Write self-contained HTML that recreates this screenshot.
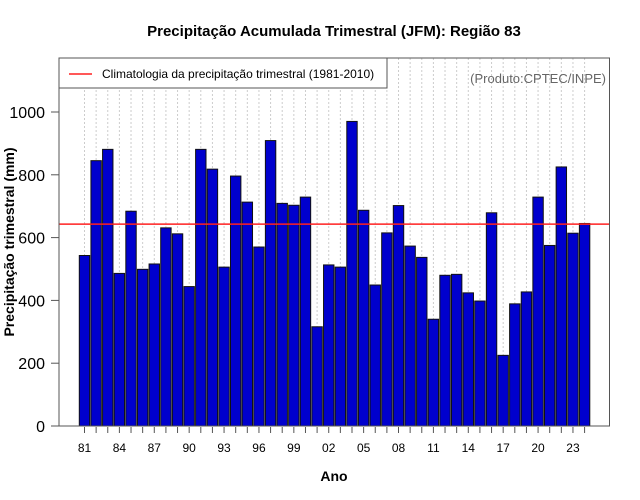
<!DOCTYPE html>
<html><head><meta charset="utf-8"><style>
body{margin:0;background:#fff;}
svg{display:block;font-family:"Liberation Sans",sans-serif;}
</style></head><body>
<svg id="chart" width="640" height="500">
<rect x="0" y="0" width="640" height="500" fill="#fff"/>
<text x="334" y="36" text-anchor="middle" font-size="15" font-weight="bold">Precipitação Acumulada Trimestral (JFM): Região 83</text>
<g id="grid"></g>
<g id="bars"></g>
<line id="clim" x1="59" x2="609.5" stroke="#ff2020" stroke-width="1.5"/>
<rect x="59" y="58" width="550.5" height="368" fill="none" stroke="#555" stroke-width="1"/>
<g id="yaxis"></g>
<g id="xaxis"></g>
<g>
<rect x="59" y="58" width="328" height="30" fill="#fff" stroke="#555" stroke-width="1"/>
<line x1="69" x2="92" y1="74" y2="74" stroke="#ff2020" stroke-width="1.5"/>
<text x="102" y="78" font-size="12">Climatologia da precipitação trimestral (1981-2010)</text>
</g>
<text x="606" y="83" text-anchor="end" font-size="13" fill="#666">(Produto:CPTEC/INPE)</text>
<text x="334" y="481" text-anchor="middle" font-size="14" font-weight="bold">Ano</text>
<text transform="translate(14,242) rotate(-90)" text-anchor="middle" font-size="14" font-weight="bold">Precipitação trimestral (mm)</text>
</svg>
<script>
const years = [];
for (let y = 1981; y <= 2024; y++) years.push(y);
const values = [543,845,881,486,684,499,516,631,612,444,881,818,506,796,713,570,909,709,703,729,316,513,506,970,687,449,615,702,573,537,340,480,483,424,398,679,225,389,427,729,575,825,614,645];
const climatology = 643;
const yTicks = [0,200,400,600,800,1000];
const xLabelYears = [1981,1984,1987,1990,1993,1996,1999,2002,2005,2008,2011,2014,2017,2020,2023];

const NS = "http://www.w3.org/2000/svg";
const y0 = 426, pxPer = 0.314;
function yScale(v){ return y0 - v * pxPer; }
function xLeft(i){ return 79.3 + i * 11.63; }
const bw = 10.4;
function mk(tag, attrs, parent){ const e=document.createElementNS(NS,tag); for(const k in attrs) e.setAttribute(k,attrs[k]); parent.appendChild(e); return e; }

const grid = document.getElementById('grid');
const bars = document.getElementById('bars');
const xaxis = document.getElementById('xaxis');
const yaxis = document.getElementById('yaxis');

years.forEach((yr, i) => {
  const cx = xLeft(i) + bw/2;
  const g = mk('line',{x1:cx,x2:cx,y1:58,y2:426,stroke:'#ccc','stroke-width':1,'stroke-dasharray':'2,2'},grid);
  
  
  const r = mk('rect',{x:xLeft(i),y:yScale(values[i]),width:bw,height:values[i]*pxPer,fill:'#0000cd',stroke:'#111','stroke-width':1},bars);
  
  
  const t = mk('line',{x1:cx,x2:cx,y1:427,y2:433,stroke:'#555','stroke-width':1},xaxis);
  
  
  if (xLabelYears.includes(yr)) {
    const l = mk('text',{x:cx,y:452,'text-anchor':'middle','font-size':12},xaxis);
    l.textContent = String(yr).slice(2);
    
    
  }
});

const clim = document.getElementById('clim');
clim.setAttribute('y1', yScale(climatology));
clim.setAttribute('y2', yScale(climatology));

yTicks.forEach(v => {
  const y = yScale(v);
  const t = mk('line',{x1:51,x2:59,y1:y,y2:y,stroke:'#555','stroke-width':1},yaxis);
  
  
  const l = mk('text',{x:45,y:y+6,'text-anchor':'end','font-size':16},yaxis);
  l.textContent = v;
  
  
});
</script>
</body></html>
